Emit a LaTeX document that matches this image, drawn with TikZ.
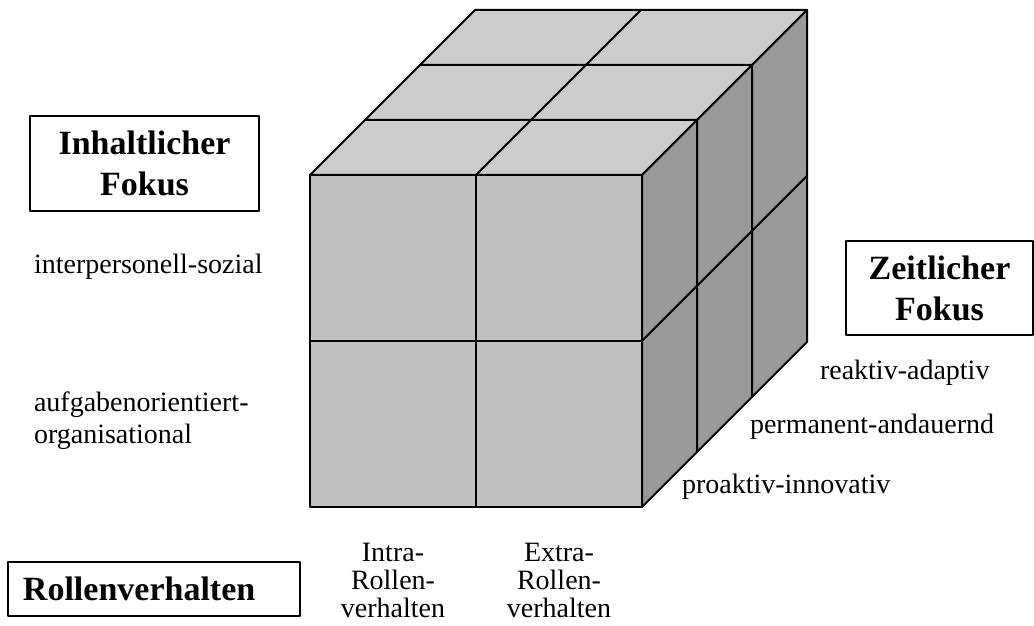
\documentclass[tikz,border=0pt]{standalone}
\usepackage{fontspec}
\setmainfont{Liberation Serif}
\definecolor{topgrey}{HTML}{CCCCCC}
\definecolor{frontgrey}{HTML}{C0C0C0}
\definecolor{sidegrey}{HTML}{999999}
\tikzset{
    headbox/.style={draw, line width=1pt, align=center, inner sep=0,
        font=\bfseries\fontsize{17}{20.5}\selectfont},
    axislabel/.style={inner sep=0, align=left,
        font=\fontsize{14}{16}\selectfont},
    rolelabel/.style={inner sep=0, align=center,
        font=\fontsize{14}{14}\selectfont}
}
\begin{document}
\begin{tikzpicture}[x=0.5pt,y=-0.5pt,line width=1pt,line join=round]
\useasboundingbox (0,0) rectangle (1034,626);
%front
\foreach \i in {0,1}{
    \foreach \j in {0,1}{
        \path[draw, fill=frontgrey] (310+166*\i,175+166*\j) rectangle ++(166,166);
    }
}
%top
\foreach \i in {0,1}{
    \foreach \k in {0,1,2}{
        \path[draw, fill=topgrey] (310+166*\i+55*\k,175-55*\k) -- ++(166,0) -- ++(55,-55) -- ++(-166,0) -- cycle;
    }
}
%side
\foreach \k in {0,1,2}{
    \foreach \j in {0,1}{
        \path[draw, fill=sidegrey] (642+55*\k,175-55*\k+166*\j) -- ++(55,-55) -- ++(0,166) -- ++(-55,55) -- cycle;
    }
}
%labels
\node[headbox, minimum width=114.5pt, minimum height=47.5pt] (inhalt) at (144.5,163.5){Inhaltlicher\\Fokus};
\node[headbox, minimum width=93.5pt, minimum height=47pt] (zeit) at (939.5,288){Zeitlicher\\Fokus};
\node[headbox, align=left, text width=131pt, inner xsep=7.5pt, minimum height=27pt, anchor=west] (rollen) at (7,589){Rollenverhalten};

\node[axislabel, anchor=west] (sozial) at (33,267){interpersonell-sozial};
\node[axislabel, anchor=west] (aufgabe) at (33,421){aufgabenorientiert-\\organisational};

\node[axislabel, anchor=west] (reaktiv) at (819,373){reaktiv-adaptiv};
\node[axislabel, anchor=west] (permanent) at (749,427){permanent-andauernd};
\node[axislabel, anchor=west] (proaktiv) at (681,487){proaktiv-innovativ};

\node[rolelabel] (intra) at (393,580){Intra-\\Rollen-\\verhalten};
\node[rolelabel] (extra) at (559,580){Extra-\\Rollen-\\verhalten};
\end{tikzpicture}
\end{document}
